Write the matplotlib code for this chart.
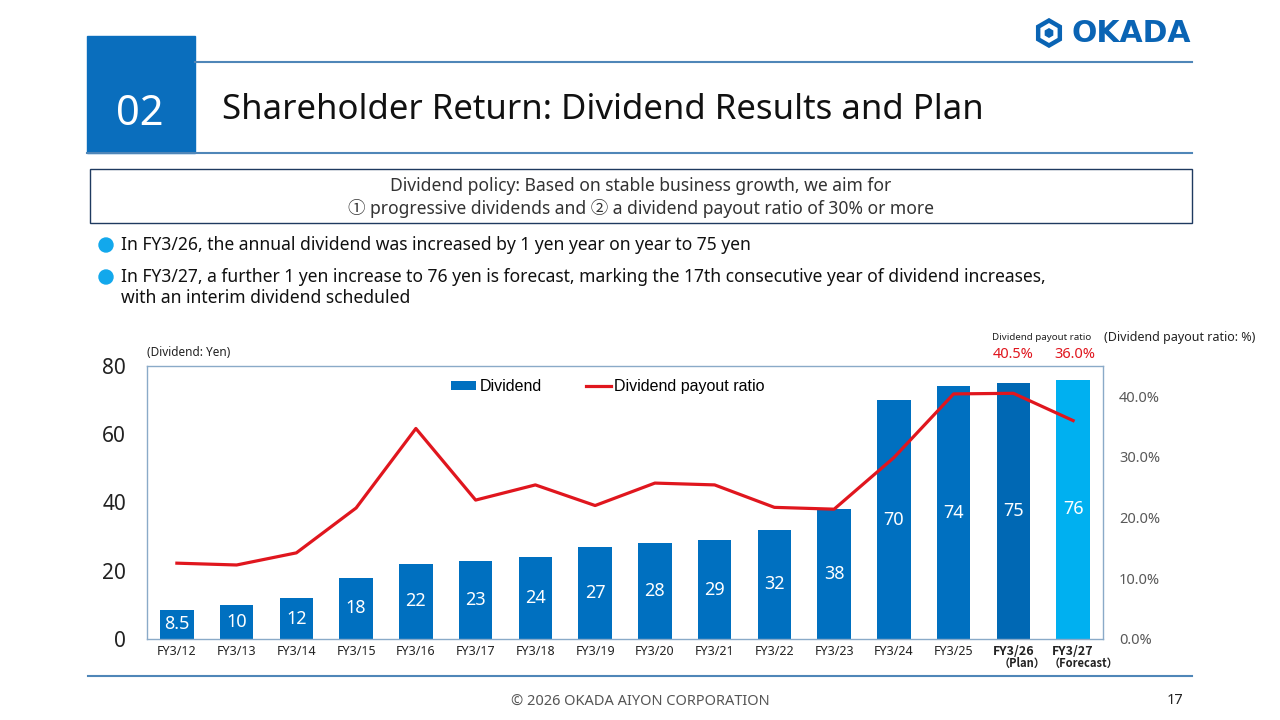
import matplotlib
matplotlib.use("Agg")
import matplotlib.pyplot as plt
from matplotlib.patches import Rectangle, RegularPolygon, Circle
from matplotlib.lines import Line2D
from matplotlib.patches import Patch
import matplotlib.transforms as mtransforms

plt.rcParams['font.family'] = ['Noto Sans', 'Noto Sans CJK JP', 'DejaVu Sans']

# ---------------- data ----------------
years = ["FY3/12", "FY3/13", "FY3/14", "FY3/15", "FY3/16", "FY3/17", "FY3/18", "FY3/19",
         "FY3/20", "FY3/21", "FY3/22", "FY3/23", "FY3/24", "FY3/25", "FY3/26", "FY3/27"]
year_notes = ["", "", "", "", "", "", "", "", "", "", "", "", "", "", "（Plan）", "（Forecast）"]
dividend = [8.5, 10, 12, 18, 22, 23, 24, 27, 28, 29, 32, 38, 70, 74, 75, 76]
dividend_labels = ["8.5", "10", "12", "18", "22", "23", "24", "27", "28", "29", "32", "38",
                   "70", "74", "75", "76"]
payout_ratio = [12.5, 12.2, 14.2, 21.6, 34.7, 22.9, 25.4, 22.0, 25.7, 25.4, 21.7, 21.4,
                29.9, 40.4, 40.5, 36.0]
left_ticks = [0, 20, 40, 60, 80]
right_ticks = [0, 10, 20, 30, 40]

BLUE = "#0070C0"
BLUE_PLAN = "#0068B4"
BLUE_FC = "#00B0F0"
RED = "#E0161E"
bar_colors = [BLUE] * 14 + [BLUE_PLAN, BLUE_FC]

W, H = 1280, 720
fig = plt.figure(figsize=(12.8, 7.2), dpi=100)

# background axes in pixel coordinates
bg = fig.add_axes([0, 0, 1, 1])
bg.set_xlim(0, W)
bg.set_ylim(H, 0)
bg.axis('off')

# header
bg.add_patch(Rectangle((87, 36), 108, 117, color="#0A6EBD", zorder=1))
bg.text(140, 114, "02", color="white", fontsize=30, ha="center", va="center")
bg.plot([195, 1192], [62, 62], color="#4F86B8", lw=1.5)
bg.plot([87, 1192], [152.5, 152.5], color="#4F86B8", lw=1.5)
bg.text(222, 110, "Shareholder Return: Dividend Results and Plan", fontsize=25,
        ha="left", va="center", color="#111111")

# logo
bg.add_patch(RegularPolygon((1049, 33), 6, radius=12.5, orientation=0,
                            facecolor="none", edgecolor="#0A64B4", lw=3.2))
bg.add_patch(RegularPolygon((1049, 33), 6, radius=5, orientation=0,
                            facecolor="#0A64B4", edgecolor="none"))
bg.text(1131, 33, "OKADA", fontsize=21.5, fontweight="bold", color="#0A64B4",
        ha="center", va="center", family="DejaVu Sans")

# policy box
bg.add_patch(Rectangle((90, 169), 1102, 54, facecolor="white", edgecolor="#1F3A60",
                       lw=1.0))
bg.text(641, 186, "Dividend policy: Based on stable business growth, we aim for",
        fontsize=12.6, ha="center", va="center", color="#333333")
bg.text(641, 208, "① progressive dividends and ② a dividend payout ratio of 30% or more",
        fontsize=12.6, ha="center", va="center", color="#333333")

# bullets
bg.add_patch(Circle((106, 245), 7, color="#12A8EC"))
bg.add_patch(Circle((106, 277), 7, color="#12A8EC"))
bg.text(121, 245, "In FY3/26, the annual dividend was increased by 1 yen year on year to 75 yen",
        fontsize=12.6, ha="left", va="center", color="#111111")
bg.text(121, 277, "In FY3/27, a further 1 yen increase to 76 yen is forecast, marking the 17th "
        "consecutive year of dividend increases,",
        fontsize=12.6, ha="left", va="center", color="#111111")
bg.text(121, 298, "with an interim dividend scheduled",
        fontsize=12.6, ha="left", va="center", color="#111111")

# chart annotations
bg.text(147, 352, "(Dividend: Yen)", fontsize=8.5, ha="left", va="center", color="#222222")
bg.text(1042, 337, "Dividend payout ratio", fontsize=7, ha="center", va="center",
        color="#222222")
bg.text(1013, 354, "40.5%", fontsize=10.5, ha="center", va="center", color=RED)
bg.text(1075, 354, "36.0%", fontsize=10.5, ha="center", va="center", color=RED)
bg.text(1180, 337, "(Dividend payout ratio: %)", fontsize=9, ha="center", va="center",
        color="#222222")

# footer
bg.plot([88, 1192], [676, 676], color="#4F86B8", lw=1.5)
bg.text(640, 702, "© 2026 OKADA AIYON CORPORATION", fontsize=10.5, ha="center",
        va="center", color="#555555")
bg.text(1175, 700, "17", fontsize=10.5, ha="center", va="center", color="#222222")

# ---------------- chart ----------------
x0, x1, y_top, y_bot = 147, 1103, 366, 639
ax = fig.add_axes([x0 / W, 1 - y_bot / H, (x1 - x0) / W, (y_bot - y_top) / H])
ax.set_zorder(2)
xs = list(range(len(years)))
bars = ax.bar(xs, dividend, width=0.56, color=bar_colors, zorder=2)
ax.bar_label(bars, labels=dividend_labels, label_type="center", color="white",
             fontsize=13)
ax.set_ylim(0, 80)
ax.set_xlim(-0.5, len(years) - 0.5)
ax.set_yticks(left_ticks)
ax.set_yticklabels([str(v) for v in left_ticks], fontsize=15, color="#222222")
ax.tick_params(axis="y", length=0, pad=15)
ax.set_xticks(xs)
ax.set_xticklabels(years, fontsize=9, color="#222222")
ax.tick_params(axis="x", length=0, pad=4)
for lbl in ax.get_xticklabels()[-2:]:
    lbl.set_fontweight("bold")
    lbl.set_family(['Noto Sans CJK JP', 'DejaVu Sans'])
# second line of the last two category labels
trans = mtransforms.blended_transform_factory(ax.transData, ax.transAxes)
note_offsets = {14: 0.15, 15: 0.18}
for i, note in enumerate(year_notes):
    if note:
        ax.text(i + note_offsets[i], -0.088, note, transform=trans, fontsize=8,
                fontweight="bold", ha="center", va="center", color="#222222",
                family=['Noto Sans CJK JP', 'DejaVu Sans'])
for s in ax.spines.values():
    s.set_color("#8AAAC8")
    s.set_linewidth(1.0)

ax2 = ax.twinx()
ax2.plot(xs, payout_ratio, color=RED, lw=2.3, zorder=3)
ax2.set_ylim(0, 45)
ax2.set_yticks(right_ticks)
ax2.set_yticklabels([f"{v:.1f}%" for v in right_ticks], fontsize=10.5, color="#595959")
ax2.tick_params(axis="y", length=0, pad=11.5)
for s in ax2.spines.values():
    s.set_visible(False)

handles = [Patch(facecolor=BLUE, edgecolor="none"),
           Line2D([0], [0], color=RED, lw=2.3)]
leg = ax2.legend(handles, ["Dividend", "Dividend payout ratio"], loc="upper center",
                 bbox_to_anchor=(0.482, 1.005), ncol=2, frameon=False,
                 prop={"family": "Liberation Sans", "size": 11.5},
                 handlelength=1.6, handleheight=0.5, handletextpad=0.2, columnspacing=2.75)

fig.savefig("out.png", dpi=100)
